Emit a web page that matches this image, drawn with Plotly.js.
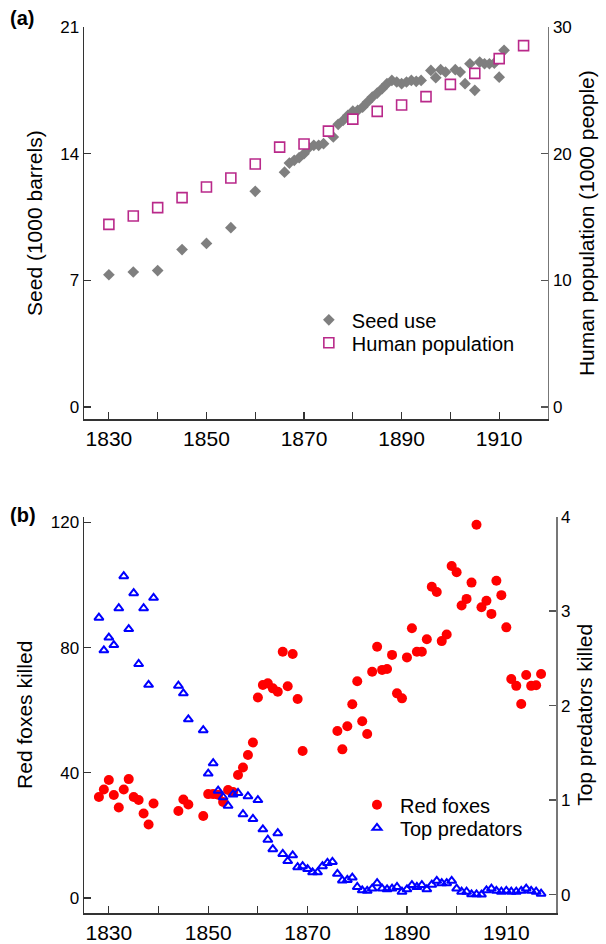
<!DOCTYPE html>
<html>
<head>
<meta charset="utf-8">
<script src="https://cdn.plot.ly/plotly-3.0.1.min.js"></script>
<style>html,body{margin:0;padding:0;background:#fff;}</style>
</head>
<body>
<div id="chart" style="width:606px;height:944px;"></div>
<script>
// ---- Panel (a) data ----
const seedYears = [1830,1835,1840,1845,1850,1855,1860,
  1866,1867,1868,1869,1870,1871,1872,1873,1874,1876,1877,1878,1879,1880,
  1881,1882,1883,1884,1885,1886,1887,1888,1889,1890,1891,1892,1893,1894,
  1896,1897,1898,1899,1901,1902,1903,1904,1905,1906,1907,1908,1909,1910,1911];
const seedUse = [7.31,7.46,7.54,8.70,9.04,9.91,11.92,
  12.98,13.48,13.63,13.78,14.0,14.33,14.46,14.46,14.55,14.92,15.62,15.84,16.12,16.35,
  16.39,16.57,16.85,17.13,17.35,17.59,17.87,18.05,17.96,17.87,17.96,18.05,18.0,18.05,
  18.6,18.2,18.64,18.51,18.64,18.51,17.87,18.97,17.5,19.06,18.97,18.97,19.0,18.23,19.71];
const popYears = [1830,1835,1840,1845,1850,1855,1860,1865,1870,1875,1880,1885,1890,1895,1900,1905,1910,1915];
const humanPop = [14.42,15.08,15.74,16.53,17.37,18.08,19.18,20.52,20.76,21.78,22.73,23.34,23.84,24.50,25.47,26.34,27.50,28.53];

// ---- Panel (b) data ----
const foxYears = [1828,1829,1830,1831,1832,1833,1834,1835,1836,1837,1838,1839,
  1844,1845,1846,1849,1850,1851,1852,1853,1854,1855,1856,1857,1858,1859,
  1860,1861,1862,1863,1864,1865,1866,1867,1868,1869,
  1876,1877,1878,1879,1880,1881,1882,1883,1884,1885,1886,1887,1888,1889,
  1890,1891,1892,1893,1894,1895,1896,1897,1898,1899,1900,1901,1902,1903,
  1904,1905,1906,1907,1908,1909,1910,1911,1912,1913,1914,1915,1916,1917];
const redFoxes = [32.3,34.7,37.7,32.9,28.9,34.7,38.0,32.3,31.3,27.0,23.5,30.2,
  27.8,31.5,29.9,26.2,33.2,33.2,33.0,30.7,34.5,33.9,39.3,41.7,45.7,49.7,
  64.1,68.1,68.6,67.0,65.9,78.7,67.7,78.0,63.6,47.0,
  53.4,47.5,54.9,61.9,69.3,56.5,52.4,72.3,80.3,72.9,73.2,77.7,65.4,63.8,
  76.9,86.2,78.7,78.7,82.7,99.5,97.8,82.1,84.2,106.1,104.1,93.5,95.6,100.8,
  119.3,92.9,95.0,90.8,101.4,96.8,86.5,70.0,67.8,62.0,71.3,67.8,68.0,71.6];
const predYears = [1828,1829,1830,1831,1832,1833,1834,1835,1836,1837,1838,1839,
  1844,1845,1846,1849,1850,1851,1852,1853,1854,1855,1856,1857,1858,1859,
  1860,1861,1862,1863,1864,1865,1866,1867,1868,1869,1870,1871,1872,1873,
  1874,1875,1876,1877,1878,1879,1880,1881,1882,1883,1884,1885,1886,1887,
  1888,1889,1890,1891,1892,1893,1894,1895,1896,1897,1898,1899,1900,1901,
  1902,1903,1904,1905,1906,1907,1908,1909,1910,1911,1912,1913,1914,1915,1916,1917];
const topPredators = [2.93,2.585,2.72,2.64,3.03,3.37,2.81,3.19,2.44,3.03,2.22,3.14,
  2.21,2.13,1.855,1.74,1.28,1.39,1.10,1.03,0.94,1.06,1.075,0.85,1.04,0.80,
  1.0,0.69,0.58,0.48,0.65,0.43,0.355,0.415,0.29,0.30,0.27,0.235,0.235,0.30,
  0.335,0.345,0.22,0.15,0.155,0.18,0.08,0.045,0.04,0.063,0.12,0.063,0.056,0.063,
  0.08,0.03,0.056,0.10,0.08,0.10,0.056,0.105,0.145,0.12,0.12,0.145,0.063,0.03,
  0.03,0.003,0.003,0.0,0.045,0.063,0.04,0.03,0.04,0.03,0.03,0.04,0.063,0.04,0.03,0.01];

const xTickVals = [1830,1850,1870,1890,1910];
const xTickText = ['1830','1850','1870','1890','1910'];

const FONT = 'Arial, "Liberation Sans", sans-serif';
const AX = '#333';

const traces = [
  {x: seedYears, y: seedUse, type:'scatter', mode:'markers', name:'Seed use',
   xaxis:'x', yaxis:'y', legend:'legend',
   marker:{symbol:'diamond', size:9, color:'#7f7f7f'}},
  {x: popYears, y: humanPop, type:'scatter', mode:'markers', name:'Human population',
   xaxis:'x', yaxis:'y2', legend:'legend3',
   marker:{symbol:'square', size:10, color:'#ffffff', line:{color:'#b9298a', width:1.6}}},
  {x: foxYears, y: redFoxes, type:'scatter', mode:'markers', name:'Red foxes',
   xaxis:'x2', yaxis:'y3', legend:'legend2',
   marker:{symbol:'circle', size:10, color:'#ff0000'}},
  {x: predYears, y: topPredators, type:'scatter', mode:'markers', name:'Top predators',
   xaxis:'x2', yaxis:'y4', legend:'legend4',
   marker:{symbol:'triangle-up-open', size:8, color:'#0000ff', line:{color:'#0000ff', width:2}}}
];

function xax(domain, anchor, range){
  return {domain:domain, anchor:anchor, range:range,
    tickvals:xTickVals, ticktext:xTickText,
    ticks:'inside', ticklen:7, tickwidth:1.2, tickcolor:AX,
    minor:{dtick:10, tick0:1830, ticks:'inside', ticklen:7, tickwidth:1.2, tickcolor:AX, showgrid:false},
    showline:true, linecolor:AX, linewidth:1.5,
    showgrid:false, zeroline:false,
    tickfont:{size:21, color:'#000'}};
}
function yax(domain, anchor, range, vals, title, side, overlay, standoff){
  const o = {domain:domain, anchor:anchor, range:range, tickvals:vals,
    ticks:'inside', ticklen:7, tickwidth:1.2, tickcolor: side==='right' ? '#555' : AX,
    showline:true, linecolor: side==='right' ? '#777' : AX, linewidth:1.5,
    showgrid:false, zeroline:false, side:side,
    tickfont:{size:17, color:'#000'},
    title:{text:title, standoff:standoff, font:{size:21, color:'#000'}}};
  if (overlay) { o.overlaying = overlay; delete o.domain; }
  return o;
}
function leg(x, y){
  return {x:x, y:y, xanchor:'left', yanchor:'top', bgcolor:'rgba(0,0,0,0)',
    itemwidth:36, font:{size:20, color:'#000'}, tracegroupgap:0};
}

const layout = {
  width:606, height:944,
  margin:{l:84, r:50, t:26.7, b:31.3},
  paper_bgcolor:'#ffffff', plot_bgcolor:'#ffffff',
  font:{family:FONT, color:'#000'},
  showlegend:true,
  xaxis: xax([0,0.983], 'y', [1824.9,1920]),
  yaxis: yax([0.5572,1], 'x', [-0.68,21], [0,7,14,21], 'Seed (1000 barrels)', 'left', null, 12),
  yaxis2: yax(null, 'x', [-0.97,30], [0,10,20,30], 'Human population (1000 people)', 'right', 'y', 8),
  xaxis2: xax([0,1], 'y3', [1825,1920]),
  yaxis3: yax([0,0.4474], 'x2', [-4.8,121.9], [0,40,80,120], 'Red foxes killed', 'left', null, 12),
  yaxis4: yax(null, 'x2', [-0.195,4.0], [0,1,2,3,4], 'Top predators killed', 'right', 'y3', 8),
  legend: leg(0.47, 0.6915),
  legend3: leg(0.47, 0.6656),
  legend2: leg(0.572, 0.1441),
  legend4: leg(0.572, 0.1182),
  annotations:[
    {text:'<b>(a)</b>', xref:'paper', yref:'paper', x:-0.161, y:1.0098, xanchor:'left', yanchor:'middle',
     showarrow:false, font:{size:20, color:'#000'}},
    {text:'<b>(b)</b>', xref:'paper', yref:'paper', x:-0.161, y:0.4489, xanchor:'left', yanchor:'middle',
     showarrow:false, font:{size:20, color:'#000'}}
  ]
};

Plotly.newPlot('chart', traces, layout, {displayModeBar:false, staticPlot:true});
</script>
</body>
</html>
